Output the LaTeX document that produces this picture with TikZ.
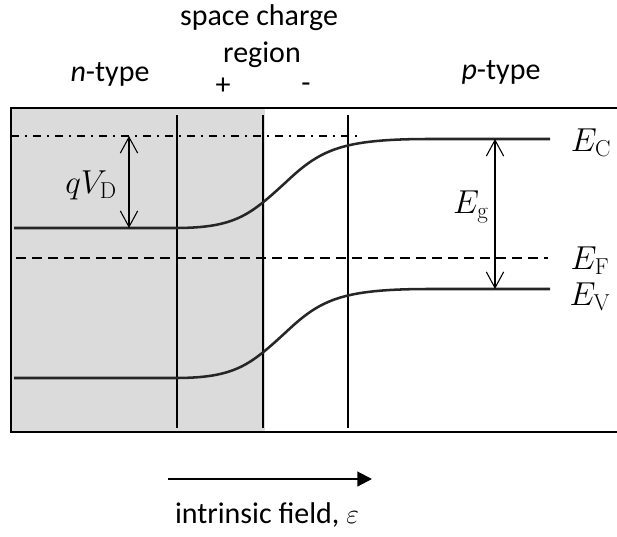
\documentclass[tikz,border=0pt]{standalone}
\usepackage[no-math]{fontspec}
\setmainfont{Carlito}
\usetikzlibrary{arrows.meta}
\begin{document}
\begin{tikzpicture}[x=0.75pt,y=-0.75pt,font=\fontsize{22.5}{27}\selectfont,
  band/.style={line width=1.9pt,black!85},
  wall/.style={line width=1.5pt},
  gap/.style={line width=0.8pt,{Straight Barb[length=12pt,width=13pt]}-{Straight Barb[length=12pt,width=13pt]}},
  mlabel/.style={font=\fontsize{25}{29}\selectfont}]
\useasboundingbox (0,0) rectangle (617,536);
\coordinate (qtop) at (129,136);
\coordinate (qbot) at (129,228);
\coordinate (gtop) at (495,139);
\coordinate (gbot) at (495,289);
\coordinate (fstart) at (168,479);
\coordinate (fend) at (372,479);

% n-side shading and frame
\fill[black!14] (11,108) rectangle (265,432);
\draw[line width=1.8pt] (617,108) -- (11,108) -- (11,432) -- (617,432);

% edges of the space charge region
\foreach \x in {177,263,348}
  \draw[wall] (\x,115) -- (\x,428);

% vacuum-like reference and Fermi level
\draw[line width=1.1pt,dash pattern=on 6pt off 4.5pt on 1.5pt off 4.5pt] (11,136) -- (362,136);
\draw[line width=1.5pt,dash pattern=on 7.5pt off 4.5pt] (16,258) -- (548,258);

% conduction and valence band
\foreach \dy in {0,150}
  \draw[band,yshift=-0.75*\dy pt] (14,228) -- (175,228)
    .. controls (235,228) and (250,215) .. (285,183)
    .. controls (320,150) and (340,139) .. (430,139) -- (550,139);

\draw[gap] (qtop) -- (qbot);
\draw[gap] (gtop) -- (gbot);
\draw[line width=1.6pt,-{Triangle[length=11pt,width=11pt]}] (fstart) -- (fend);

\node[mlabel] (qvd) at (91,185) {$qV_{\mathrm{D}}$};
\node[mlabel] (eg) at (471,207) {$E_{\mathrm{g}}$};
\node[mlabel] (ec) at (591,143) {$E_{\mathrm{C}}$};
\node[mlabel] (ef) at (590,261) {$E_{\mathrm{F}}$};
\node[mlabel] (ev) at (590,297) {$E_{\mathrm{V}}$};

\node[anchor=base] (scr1) at (259,25) {space charge};
\node[anchor=base] (scr2) at (262,62) {region};
\node[anchor=base] (ntype) at (110,81) {\textit{n}-type};
\node[anchor=base] (ptype) at (501,79) {\textit{p}-type};
\node (plus) at (223,86) {+};
\node (minus) at (306,88) {-};
\node (field) at (267,515) {intrinsic field, $\varepsilon$};
\end{tikzpicture}
\end{document}
